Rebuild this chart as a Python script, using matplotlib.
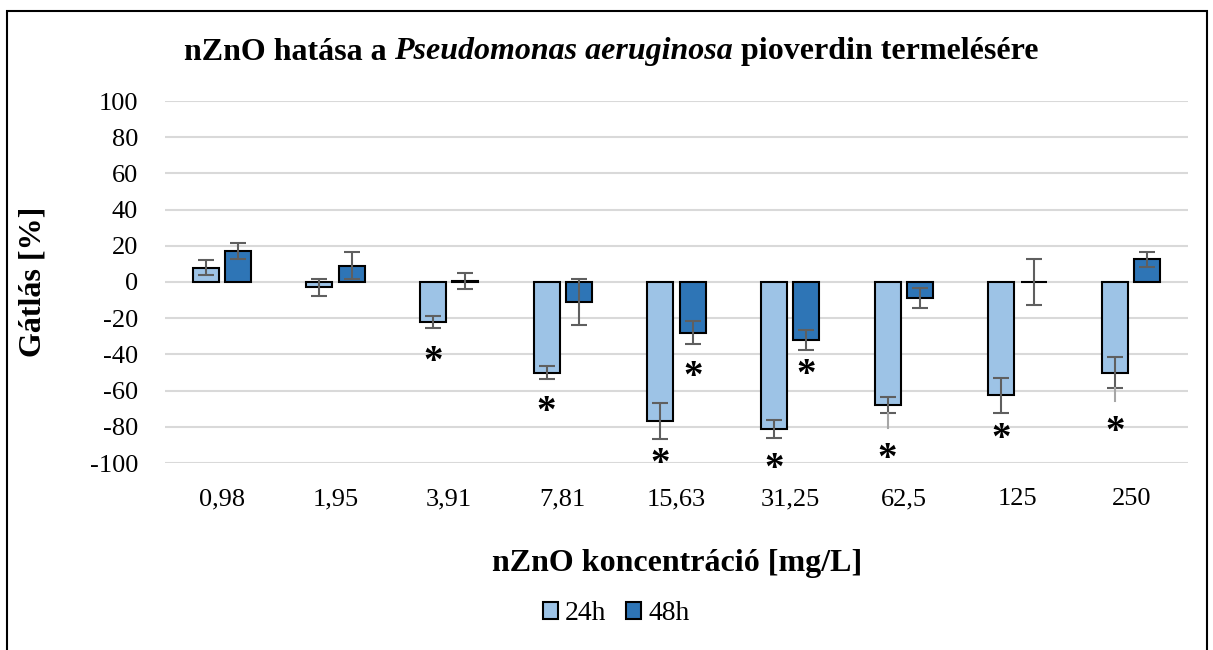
import numpy as np
import matplotlib.pyplot as plt
from matplotlib import transforms
from matplotlib.patches import Rectangle, Patch

plt.rcParams['font.family'] = ['Liberation Serif', 'DejaVu Serif']
plt.rcParams['axes.unicode_minus'] = False

categories = ['0,98', '1,95', '3,91', '7,81', '15,63', '31,25', '62,5', '125', '250']
h24 = [8, -3, -22, -50, -77, -81, -68, -62.6, -50]
h24_err = [4, 4.5, 3.3, 3.5, 10, 5, 4.3, 9.6, 8.8]
h48 = [17, 9, 0.5, -11, -28, -32, -9, 0, 12.6]
h48_err = [4.5, 7.5, 4.5, 12.7, 6.3, 5.3, 5.5, 12.7, 4.2]
# extra faint whisker below some 24h bars (as in the original)
h24_extra_low = [None, None, None, None, None, None, -80.5, None, -66]
# significance stars
star_24 = [None, None, -39, -66.7, -95.4, -98, -92.6, -81.8, -77.8]
star_48 = [None, None, None, None, -47.2, -46.3, None, None, None]

c24 = '#9DC3E6'
c48 = '#2E75B6'
errc = '#5F5F5F'

fig = plt.figure(figsize=(12.13, 6.5), dpi=100)
W, H = 1213, 650
ax = fig.add_axes([165 / W, 1 - 463 / H, (1188 - 165) / W, (463 - 101) / H])

x = np.arange(len(categories))
bw = 0.23
gap = 0.055
off = (bw + gap) / 2

ax.bar(x - off, h24, bw, color=c24, edgecolor='black', linewidth=1.5, zorder=3)
ax.bar(x + off, h48, bw, color=c48, edgecolor='black', linewidth=1.5, zorder=3)
ax.errorbar(x - off, h24, yerr=h24_err, fmt='none', ecolor=errc, elinewidth=1.5,
            capsize=6, capthick=1.5, zorder=4)
ax.errorbar(x + off, h48, yerr=h48_err, fmt='none', ecolor=errc, elinewidth=1.5,
            capsize=6, capthick=1.5, zorder=4)
for i, lo in enumerate(h24_extra_low):
    if lo is not None:
        ax.plot([x[i] - off, x[i] - off], [h24[i] - h24_err[i], lo], color='#A6A6A6',
                lw=1.5, zorder=4)

star_fs = 28
star_tr = transforms.offset_copy(ax.transData, fig=fig, y=-0.25 * star_fs, units='points')
for i, s in enumerate(star_24):
    if s is not None:
        ax.text(x[i] - off, s, '*', ha='center', va='center', fontsize=star_fs,
                fontweight='bold', transform=star_tr, zorder=5)
for i, s in enumerate(star_48):
    if s is not None:
        ax.text(x[i] + off, s, '*', ha='center', va='center', fontsize=star_fs,
                fontweight='bold', transform=star_tr, zorder=5)

ax.set_xlim(-0.5, len(categories) - 0.5)
ax.set_ylim(-100, 100)
ax.set_yticks(np.arange(-100, 101, 20))
ax.set_xticks(x)
ax.set_xticklabels(categories)
ax.tick_params(axis='both', length=0, labelsize=19)
ax.tick_params(axis='x', pad=18)
ax.tick_params(axis='y', pad=19.5)
ax.grid(axis='y', color='#D9D9D9', linewidth=1.5, zorder=0)
ax.set_axisbelow(True)
for sp in ax.spines.values():
    sp.set_visible(False)

# y label
fig.text(33 / W, 1 - 282 / H, 'Gátlás [%]', rotation=90, ha='center', va='center',
         fontsize=23, fontweight='bold')
# x label
fig.text(677 / W, 1 - 564 / H, 'nZnO koncentráció [mg/L]', ha='center', va='center',
         fontsize=23, fontweight='bold')

# title with italic species name
parts = [('nZnO hatása a ', 'normal'), ('Pseudomonas aeruginosa', 'italic'),
         (' pioverdin termelésére', 'normal')]
fig.canvas.draw()
r = fig.canvas.get_renderer()
texts = []
widths = []
for s, st in parts:
    t = fig.text(0, 1 - 52 / H, s, fontsize=23, fontweight='bold', style=st,
                 ha='left', va='center')
    bb = t.get_window_extent(renderer=r)
    texts.append(t)
    widths.append(bb.width)
total = sum(widths)
xpos = 611 - total / 2
for t, w in zip(texts, widths):
    t.set_x(xpos / W)
    xpos += w

# legend
handles = [Patch(facecolor=c24, edgecolor='black', linewidth=1.5, label='24h'),
           Patch(facecolor=c48, edgecolor='black', linewidth=1.5, label='48h')]
fig.legend(handles=handles, loc='center', bbox_to_anchor=(616 / W, 1 - 614 / H), ncol=2,
           frameon=False, prop={'family': 'Liberation Serif', 'size': 20},
           handlelength=0.55, handleheight=0.55, handletextpad=0.25, columnspacing=0.7)

# outer border
fig.patches.append(Rectangle((7 / W, -0.01), (1207 - 7) / W, (650 - 11) / H + 0.01,
                             transform=fig.transFigure, fill=False, edgecolor='black',
                             linewidth=1.5))

fig.savefig('out.png', dpi=100)
